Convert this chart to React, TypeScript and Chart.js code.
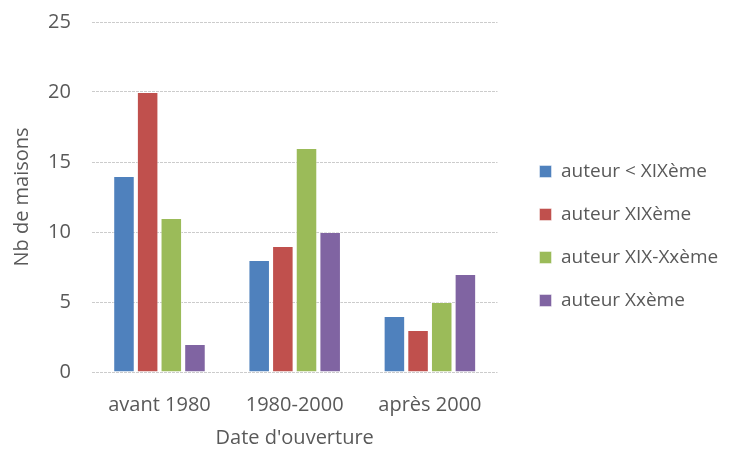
import React, { useEffect, useRef } from "react";
import { Chart, registerables } from "chart.js";

Chart.register(...registerables);

const categories = ["avant 1980", "1980-2000", "après 2000"];
const seriesNames = ["auteur < XIXème", "auteur XIXème", "auteur XIX-Xxème", "auteur Xxème"];
const seriesLessXIX = [14, 8, 4];
const seriesXIX = [20, 9, 3];
const seriesXIXXX = [11, 16, 5];
const seriesXX = [2, 10, 7];
const colors = ["#4F81BD", "#C0504D", "#9BBB59", "#8064A2"];
const yTicks = [0, 5, 10, 15, 20, 25];

const FONT = "'Open Sans', 'DejaVu Sans', sans-serif";
const TEXT = "#595959";

const legendShift = {
  id: "legendShift",
  afterLayout(chart: any) {
    const lg = chart.legend;
    if (!lg) return;
    lg.left += 18;
    lg.right = chart.width;
    lg.top += 11;
    lg.bottom += 11;
  },
};

export default function App() {
  const ref = useRef<HTMLCanvasElement | null>(null);
  useEffect(() => {
    document.body.style.margin = "0";
    const values = [seriesLessXIX, seriesXIX, seriesXIXXX, seriesXX];
    const chart = new Chart(ref.current!, {
      type: "bar",
      data: {
        labels: categories,
        datasets: seriesNames.map((name, i) => ({
          label: name,
          data: values[i],
          backgroundColor: colors[i],
          borderColor: "rgba(255,255,255,0.45)",
          borderWidth: 1,
          barPercentage: 0.91,
          categoryPercentage: 0.7,
        })),
      },
      options: {
        animation: false,
        responsive: false,
        maintainAspectRatio: false,
        layout: { padding: { top: 0, right: 73, left: 10, bottom: 0 } },
        plugins: {
          tooltip: { enabled: false },
          legend: {
            position: "right",
            align: "center",
            labels: {
              boxWidth: 12,
              boxHeight: 12,
              padding: 24,
              color: TEXT,
              font: { family: FONT, size: 19 },
            },
          },
        },
        scales: {
          x: {
            grid: { display: false, drawTicks: true, tickLength: 18 },
            border: { display: false },
            ticks: { color: TEXT, font: { family: FONT, size: 20 }, padding: 3 },
            title: {
              display: true,
              text: "Date d'ouverture",
              color: TEXT,
              font: { family: FONT, size: 20 },
              padding: { top: 6, bottom: 0 },
            },
          },
          y: {
            min: 0,
            max: 25,
            afterBuildTicks: (axis: any) => {
              axis.ticks = yTicks.map((v) => ({ value: v }));
            },
            grid: {
              color: "#cccccc",
              lineWidth: 1,
              drawTicks: true,
              tickLength: 11,
              tickColor: "rgba(0,0,0,0)",
            },
            border: { display: false, dash: [3, 1] },
            ticks: { color: TEXT, font: { family: FONT, size: 20 }, padding: 10 },
            title: {
              display: true,
              text: "Nb de maisons",
              color: TEXT,
              font: { family: FONT, size: 20 },
              padding: { top: 0, bottom: 4 },
            },
          },
        },
      },
      plugins: [legendShift],
    });
    return () => chart.destroy();
  }, []);
  return (
    <div style={{ position: "relative", width: 733, height: 450, background: "#fff" }}>
      <canvas ref={ref} width={733} height={450} style={{ display: "block" }} />
    </div>
  );
}
